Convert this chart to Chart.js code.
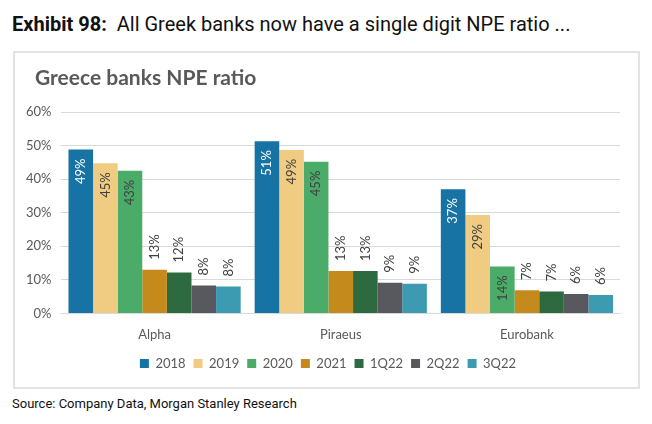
<!DOCTYPE html>
<html><head><meta charset="utf-8">
<script src="https://cdn.jsdelivr.net/npm/chart.js@4.4.0/dist/chart.umd.min.js"></script>
<style>
html,body{margin:0;padding:0;background:#fff;}
body{width:652px;height:424px;position:relative;overflow:hidden;}
#hdr{position:absolute;left:12px;top:12px;font-family:Roboto,sans-serif;font-size:20px;color:#111;white-space:nowrap;}
#hdr b{font-weight:700;}
#box{position:absolute;left:13px;top:51px;width:623px;height:334px;border:2px solid #e3e3e3;}
#ctitle{position:absolute;left:35px;top:64px;font-family:Lato,sans-serif;font-weight:700;font-size:21px;color:#595959;white-space:nowrap;}
#src{position:absolute;left:12px;top:396px;font-family:Roboto,sans-serif;font-size:13px;color:#111;white-space:nowrap;}
#wrap{position:absolute;left:2px;top:53px;width:634px;height:332px;}
</style></head>
<body>
<div id="hdr"><b>Exhibit 98:</b>&nbsp; All Greek banks now have a single digit NPE ratio ...</div>
<div id="box"></div>
<div id="wrap"><canvas id="c"></canvas></div>
<div id="ctitle">Greece banks NPE ratio</div>
<div id="src">Source: Company Data, Morgan Stanley Research</div>
<script>
const categories = ["Alpha", "Piraeus", "Eurobank"];
const seriesNames = ["2018", "2019", "2020", "2021", "1Q22", "2Q22", "3Q22"];
const s2018 = [48.8, 51.3, 37.0];
const s2019 = [44.7, 48.7, 29.3];
const s2020 = [42.5, 45.2, 14.0];
const s2021 = [13.0, 12.6, 6.9];
const s1Q22 = [12.2, 12.6, 6.5];
const s2Q22 = [8.3, 9.1, 5.8];
const s3Q22 = [8.0, 8.8, 5.5];
const labels2018 = ["49%", "51%", "37%"];
const labels2019 = ["45%", "49%", "29%"];
const labels2020 = ["43%", "45%", "14%"];
const labels2021 = ["13%", "13%", "7%"];
const labels1Q22 = ["12%", "13%", "7%"];
const labels2Q22 = ["8%", "9%", "6%"];
const labels3Q22 = ["8%", "9%", "6%"];
const yTicks = [0, 10, 20, 30, 40, 50, 60];

const colors = ["#1673A4", "#F0CB82", "#4BAB68", "#C48B1C", "#2D6A40", "#58595E", "#3D9BB1"];
const values = [s2018, s2019, s2020, s2021, s1Q22, s2Q22, s3Q22];
const labelSets = [labels2018, labels2019, labels2020, labels2021, labels1Q22, labels2Q22, labels3Q22];

const datasets = seriesNames.map((n, i) => ({
  label: n,
  data: values[i],
  backgroundColor: colors[i],
  borderWidth: 0,
  barPercentage: 1.0,
  categoryPercentage: 0.925
}));

const labelPlugin = {
  id: 'barLabels',
  afterLayout(chart) {
    if (chart.legend) { chart.legend.left += 10; chart.legend.right += 10; }
  },
  afterDatasetsDraw(chart) {
    const ctx = chart.ctx;
    ctx.save();
    ctx.font = '13px Lato, sans-serif';
    chart.data.datasets.forEach((ds, di) => {
      const meta = chart.getDatasetMeta(di);
      meta.data.forEach((bar, j) => {
        const v = ds.data[j];
        const txt = labelSets[di][j];
        ctx.save();
        ctx.translate(bar.x, bar.y);
        ctx.rotate(-Math.PI / 2);
        ctx.textBaseline = 'middle';
        if (v >= 13.5) {
          ctx.textAlign = 'right';
          ctx.fillStyle = di === 0 ? '#ffffff' : '#404040';
          ctx.fillText(txt, -9, 0);
        } else {
          ctx.textAlign = 'left';
          ctx.fillStyle = '#404040';
          ctx.fillText(txt, 10, 0);
        }
        ctx.restore();
      });
    });
    ctx.restore();
  }
};

new Chart(document.getElementById('c'), {
  type: 'bar',
  data: { labels: categories, datasets },
  options: {
    responsive: true,
    maintainAspectRatio: false,
    animation: false,
    layout: { padding: { top: 59, right: 16, left: 14, bottom: 5 } },
    plugins: {
      title: { display: false },
      tooltip: { enabled: false },
      legend: {
        position: 'bottom',
        labels: {
          boxWidth: 9, boxHeight: 9, padding: 8,
          color: '#595959',
          font: { family: 'Lato, sans-serif', size: 13 }
        }
      }
    },
    scales: {
      x: {
        grid: { display: false },
        border: { display: true, color: '#d9d9d9', width: 1 },
        ticks: { color: '#595959', font: { family: 'Lato, sans-serif', size: 13 }, padding: 6 }
      },
      y: {
        min: 0, max: 60,
        afterBuildTicks: (axis) => { axis.ticks = yTicks.map(v => ({ value: v })); },
        grid: { color: '#d9d9d9', lineWidth: 1, drawTicks: false },
        border: { display: false },
        ticks: {
          color: '#595959',
          font: { family: 'Lato, sans-serif', size: 13 },
          padding: 10,
          callback: v => v + '%'
        }
      }
    }
  },
  plugins: [labelPlugin]
});
</script>
</body></html>
